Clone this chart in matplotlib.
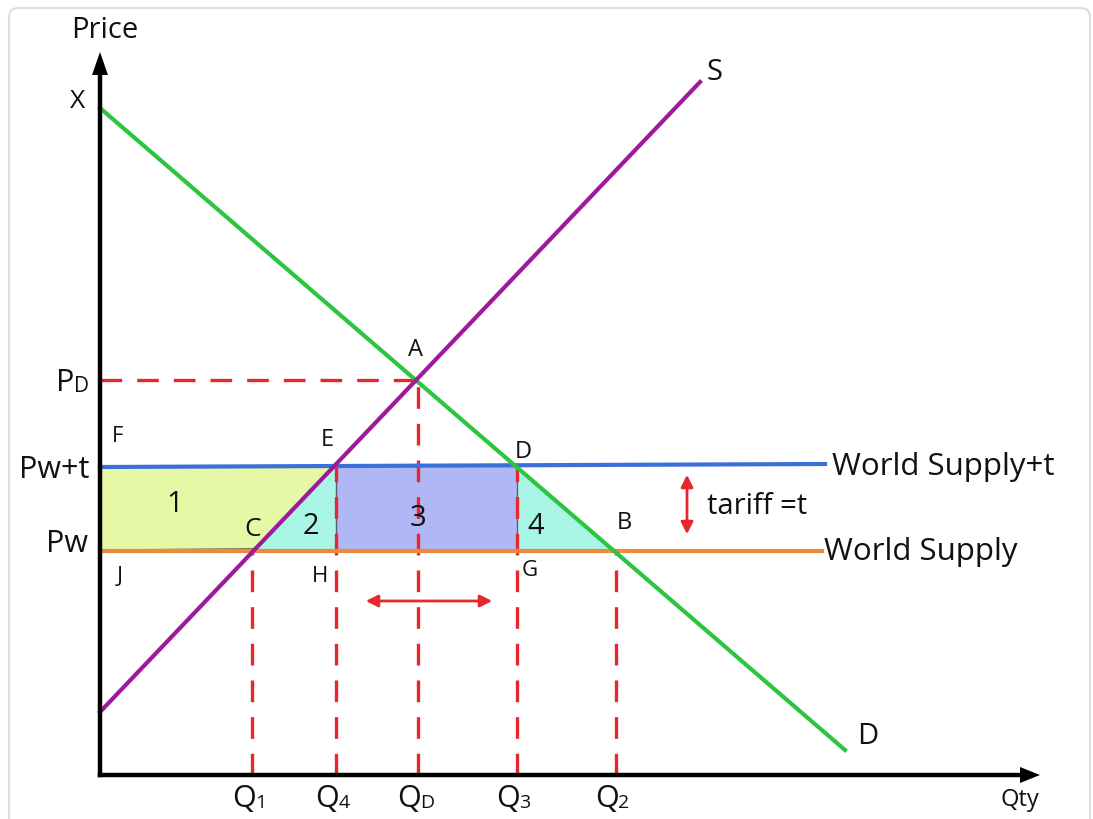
import matplotlib
matplotlib.use("Agg")
import matplotlib.pyplot as plt
from matplotlib.patches import Polygon, FancyBboxPatch, FancyArrowPatch

plt.rcParams['font.family'] = ['Open Sans', 'DejaVu Sans']

# ---- data (chart units: q to the right, p upwards, origin at axes corner)
demand_q = [0, 745]
demand_p = [667, 25]
supply_q = [0, 600]
supply_p = [63, 693]
Pw = 224
Pwt = 308
world_end_q = 725
q_labels = ['Q1', 'Q4', 'QD', 'Q3', 'Q2']
region_labels = ['1', '2', '3', '4']

ds = (demand_p[1] - demand_p[0]) / (demand_q[1] - demand_q[0])
ss = (supply_p[1] - supply_p[0]) / (supply_q[1] - supply_q[0])
def dq(p): return (p - demand_p[0]) / ds
def sq(p): return (p - supply_p[0]) / ss
qA = (supply_p[0] - demand_p[0]) / (ds - ss)
pA = demand_p[0] + ds * qA
qC, qE = sq(Pw), sq(Pwt)
qD, qB = dq(Pwt), dq(Pw)
qH = qE + 3

fig = plt.figure(figsize=(10.93, 8.19), dpi=100)
ax = fig.add_axes([0, 0, 1, 1])
ax.set_xlim(-100, 993)
ax.set_ylim(-44, 775)
ax.axis('off')

# card frame
frame = FancyBboxPatch((-91, -60), 1081, 827, boxstyle="round,pad=0,rounding_size=9",
                       fc='white', ec='#dedede', lw=1.5, zorder=0)
ax.add_patch(frame)

RED = '#e8262e'
GREEN = '#2bc53f'
PURPLE = '#a0189c'
BLUE = '#3c6fd9'
ORANGE = '#ef8a3c'

# shaded regions
ax.add_patch(Polygon([(0, Pwt), (qE, Pwt), (qC, Pw), (0, Pw)], closed=True,
                     fc='#e6f8a6', ec='none', zorder=1))
ax.add_patch(Polygon([(qC, Pw), (qE, Pwt), (qH, Pwt), (qH, Pw)], closed=True,
                     fc='#a9f6e6', ec='none', zorder=1))
ax.add_patch(Polygon([(qH, Pwt), (qD, Pwt), (qD, Pw), (qH, Pw)], closed=True,
                     fc='#b0b7f5', ec='none', zorder=1))
ax.add_patch(Polygon([(qD, Pwt), (qD, Pw), (qB, Pw)], closed=True,
                     fc='#a9f6e6', ec='none', zorder=1))
for xq in (qH, qD):
    ax.plot([xq, xq], [Pw, Pwt], color='#556070', lw=1, zorder=2)
ax.plot([0, qC], [Pw + 1, Pw + 2], color='#333333', lw=1, zorder=2)

# dashed red guides
dash = dict(color=RED, lw=2.4, dashes=(6.5, 4.5), zorder=3)
ax.plot([0, qA], [pA, pA], **dash)
ax.plot([qA + 2, qA + 2], [0, pA], **dash)
for xq, top in ((qC - 1, Pw), (qH, Pwt), (qD, Pwt), (qB + 2, Pw)):
    ax.plot([xq, xq], [0, top], **dash)

# world supply lines
ax.plot([0, world_end_q], [Pwt, Pwt + 3], color=BLUE, lw=3, zorder=4)
ax.plot([0, world_end_q - 3], [Pw, Pw], color=ORANGE, lw=3, zorder=4)

# demand and supply
ax.plot(demand_q, demand_p, color=GREEN, lw=3, zorder=5)
ax.plot(supply_q, supply_p, color=PURPLE, lw=3, zorder=5)

# axes arrows
ax.plot([0, 0], [0, 705], color='black', lw=3.2, zorder=6, solid_capstyle='projecting')
ax.plot([0, 925], [0, 0], color='black', lw=3.2, zorder=6, solid_capstyle='projecting')
ax.add_patch(Polygon([(-8, 700), (8, 700), (0, 723)], closed=True, fc='black', ec='none', zorder=6))
ax.add_patch(Polygon([(920, 8), (920, -8), (940, 0)], closed=True, fc='black', ec='none', zorder=6))

# red double arrows
ax.add_patch(FancyArrowPatch((587, Pwt - 5), (587, Pw + 14), arrowstyle='<|-|>',
                             mutation_scale=18, color=RED, lw=2, zorder=7))
ax.add_patch(FancyArrowPatch((263, 174), (395, 174), arrowstyle='<|-|>',
                             mutation_scale=18, color=RED, lw=2, zorder=7))

TXT = '#111111'
def t(x, y, s, size=16, ha='center', va='center'):
    ax.text(x, y, s, fontsize=size, ha=ha, va=va, color=TXT, zorder=8)

t(5, 745, 'Price', 21)
t(-22, 673, 'X', 19)
# P with subscript D
t(-26, 392, 'P', 22, ha='right')
t(-26, 388, 'D', 15, ha='left')
t(18, 338, 'F', 16)
t(227, 335, 'E', 17)
t(316, 425, 'A', 17)
t(423, 323, 'D', 17)
t(-11, 305, 'Pw+t', 22, ha='right')
t(-12, 231, 'Pw', 22, ha='right')
t(75, 270, region_labels[0], 21)
t(153, 245, 'C', 19)
t(211, 248, region_labels[1], 21)
t(318, 257, region_labels[2], 21)
t(436, 249, region_labels[3], 21)
t(524, 252, 'B', 17)
t(20, 198, 'J', 16)
t(220, 198, 'H', 16)
t(430, 205, 'G', 16)
t(607, 269, 'tariff =t', 21, ha='left')
t(732, 308, 'World Supply+t', 22.5, ha='left')
t(724, 223, 'World Supply', 22.5, ha='left')
t(615, 703, 'S', 21)
t(768, 38, 'D', 21)
t(920, -25, 'Qty', 17)

# quantity tick labels: big letter + small subscript
q_pos = [qC, qH, qA + 2, qD, qB + 2]
for xq, lab in zip(q_pos, q_labels):
    ax.text(xq + 3, -24, lab[0], fontsize=22, ha='right', va='center', color=TXT)
    ax.text(xq + 2, -28, lab[1], fontsize=14, ha='left', va='center', color=TXT)

fig.savefig('out.png', dpi=100)
